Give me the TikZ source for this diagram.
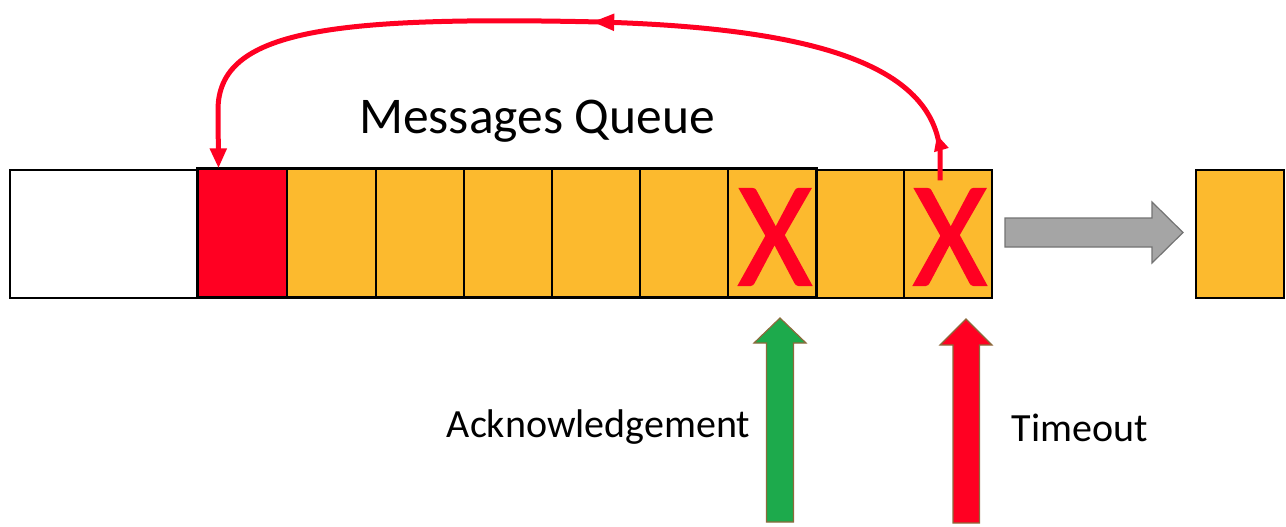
\documentclass[tikz,border=0pt]{standalone}
\usepackage{fontspec}
\setmainfont{Carlito}
\newfontfamily\xfont[FakeBold=1.2]{Carlito}
\usetikzlibrary{arrows.meta,decorations.markings}
\definecolor{qorange}{HTML}{FCBA2E}
\definecolor{qred}{HTML}{FF0022}
\definecolor{qgreen}{HTML}{1DAA4C}
\definecolor{qgray}{HTML}{A5A5A5}
\definecolor{qbrown}{HTML}{8C6A3C}
\tikzset{
  cell/.style={draw=black, line width=1.3pt, minimum width=88pt, minimum height=128pt, inner sep=0pt, fill=qorange},
  xmark/.style={text=qred, font=\xfont\fontsize{150}{150}\selectfont, xscale=0.95, inner sep=0pt},
  label/.style={font=\fontsize{40}{46}\selectfont, anchor=base, inner sep=0pt},
  loop/.style={draw=qred, line width=5pt},
  blockarrow/.style={line width=1.2pt, line join=miter},
}
\begin{document}
\begin{tikzpicture}[x=1pt,y=-1pt]
\useasboundingbox (0,0) rectangle (1286,527);
% queue cells
\node[cell, fill=white, minimum width=188pt] (empty) at (104,234) {};
\node[cell, fill=qred, minimum width=89pt] (red) at (242.5,233) {};
\node[cell] (c1) at (331.5,233) {};
\node[cell] (c2) at (420,233) {};
\node[cell] (c3) at (508,233) {};
\node[cell] (c4) at (596,233) {};
\node[cell] (c5) at (684,233) {};
\node[cell] (x1) at (772,233) {};
\node[cell] (c6) at (860,234) {};
\node[cell] (x2) at (948,234) {};
\draw[line width=2pt] (red.north west) rectangle (x1.south east);
\node[xmark] (m1) at (775,237) {X};
\node[xmark] (m2) at (950,237) {X};
% dequeued cell
\node[cell] (out) at (1240,234) {};
% gray block arrow
\draw[blockarrow, draw=qgray!70!black, fill=qgray]
  (1005,218) -- (1152,218) -- (1152,202) -- (1183,232.5) -- (1152,263) -- (1152,247) -- (1005,247) -- cycle;
% title
\node[font=\fontsize{51.5}{60}\selectfont, anchor=base, inner sep=0pt] (title) at (537,133) {Messages Queue};
% loop-back arrow
\draw[loop, -{Triangle[length=20pt,width=16pt]},
  postaction={decorate},
  decoration={markings,
    mark=at position 46pt with {\arrow{Triangle[length=16pt,width=14pt]}},
    mark=at position 428pt with {\arrow{Triangle[length=22pt,width=16pt]}}}]
  ([shift={(-8,11)}]x2.north) -- (940,150)
  .. controls (930,60) and (800,28) .. (600,22)
  .. controls (330,16) and (218,30) .. (218,110)
  -- ([xshift=-24pt]red.north);
% up arrows
\draw[blockarrow, draw=qbrown, fill=qgreen]
  (766.5,522) -- (766.5,343) -- (754,343) -- (780,318) -- (806,343) -- (793.5,343) -- (793.5,522) -- cycle;
\draw[blockarrow, draw=qbrown, fill=qred]
  (953,523) -- (953,345) -- (940,345) -- (966,319) -- (992,345) -- (979.5,345) -- (979.5,523) -- cycle;
\node[label] (ack) at (598.5,437) {Acknowledgement};
\node[label] (tout) at (1080,441) {Timeout};
\end{tikzpicture}
\end{document}
